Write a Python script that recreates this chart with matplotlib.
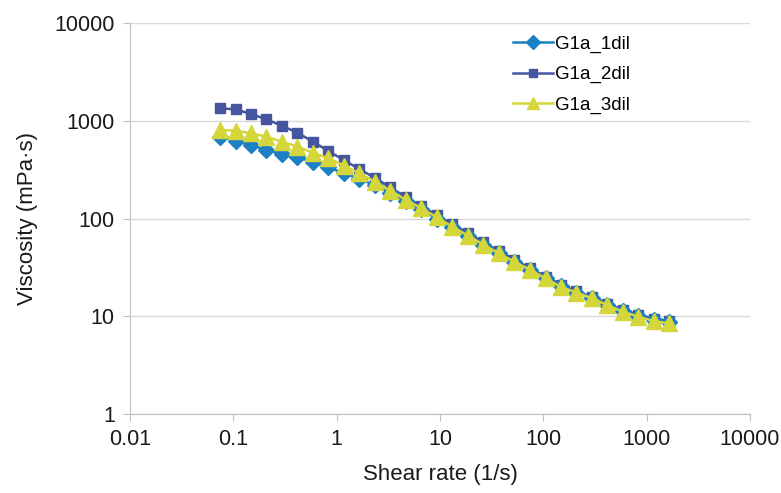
import matplotlib
matplotlib.use('Agg')
from matplotlib import pyplot as plt, ticker
import numpy as np

shear_rate = [0.074, 0.105, 0.148, 0.209, 0.295, 0.417, 0.589, 0.832, 1.17, 1.66,
              2.35, 3.31, 4.68, 6.61, 9.33, 13.2, 18.6, 26.3, 37.2, 52.5,
              74.1, 105, 148, 209, 295, 417, 589, 832, 1175, 1660]

g1a_1dil = [690, 625, 565, 502, 457, 424, 376, 334, 290, 255,
            218, 182, 150, 124, 100, 81, 66, 53.5, 44, 36,
            29.8, 24.5, 20.2, 17.5, 15.4, 13.1, 11.3, 10.0, 9.1, 8.8]
g1a_2dil = [1340, 1310, 1172, 1035, 889, 755, 611, 491, 396, 320,
            260, 208, 166, 134, 108, 87, 71, 57, 46.5, 38,
            31, 25.5, 21, 18, 15.8, 13.5, 11.6, 10.4, 9.4, 9.0]
g1a_3dil = [804, 790, 745, 687, 611, 543, 471, 413, 348, 290,
            238, 192, 155, 127, 103, 82, 67, 54, 44, 36,
            30, 24.4, 20, 17.5, 15.3, 13.0, 11.1, 9.9, 8.9, 8.5]

series_names = ['G1a_1dil', 'G1a_2dil', 'G1a_3dil']

plt.rcParams['font.family'] = ['Liberation Sans', 'DejaVu Sans']

fig = plt.figure(figsize=(7.81, 4.93), dpi=100)
ax = fig.add_axes([0.1665, 0.1602, 0.7938, 0.7931])

ax.plot(shear_rate, g1a_1dil, color='#1C80C4', marker='D', markersize=8.5,
        linewidth=1.8, label=series_names[0], zorder=3)
ax.plot(shear_rate, g1a_2dil, color='#4555A0', marker='s', markersize=7.5,
        linewidth=1.8, label=series_names[1], zorder=2)
ax.plot(shear_rate, g1a_3dil, color='#D4D63A', marker='^', markersize=11,
        linewidth=1.8, label=series_names[2], zorder=4)

ax.set_xscale('log')
ax.set_yscale('log')
ax.set_xlim(0.01, 10000)
ax.set_ylim(1, 10000)

fmt = ticker.FuncFormatter(lambda v, p: f'{v:g}')
ax.xaxis.set_major_locator(ticker.LogLocator(base=10, numticks=10))
ax.yaxis.set_major_locator(ticker.LogLocator(base=10, numticks=10))
ax.xaxis.set_minor_locator(ticker.NullLocator())
ax.yaxis.set_minor_locator(ticker.NullLocator())
ax.xaxis.set_major_formatter(fmt)
ax.yaxis.set_major_formatter(fmt)

ax.yaxis.grid(True, color='#D9D9D9', linewidth=1.0)
ax.set_axisbelow(True)
for side in ['top', 'right']:
    ax.spines[side].set_visible(False)
for side in ['left', 'bottom']:
    ax.spines[side].set_color('#BFBFBF')
ax.tick_params(axis='both', which='major', length=5, color='#BFBFBF',
               labelsize=15.5, labelcolor='#1A1A1A', pad=6)

ax.set_xlabel('Shear rate (1/s)', fontsize=16, color='#1A1A1A', labelpad=10)
ax.set_ylabel('Viscosity (mPa·s)', fontsize=16, color='#1A1A1A', labelpad=12)

ax.legend(loc='upper left', bbox_to_anchor=(0.606, 0.988), frameon=False,
          fontsize=13.5, handlelength=2.1, handletextpad=0.15, labelspacing=0.72,
          markerscale=0.8, borderaxespad=0)

fig.savefig('out.png', dpi=100)
